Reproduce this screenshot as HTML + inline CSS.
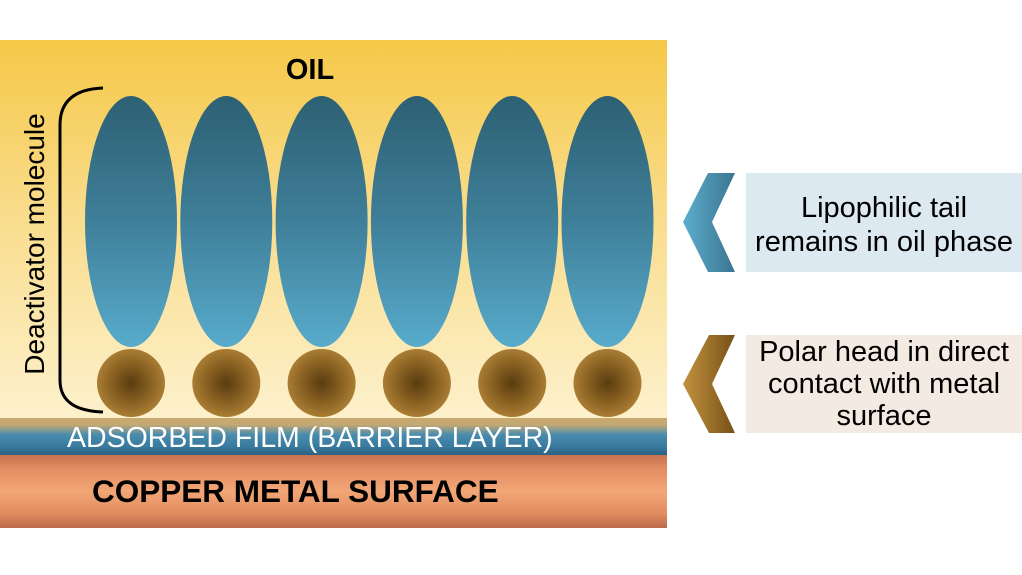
<!DOCTYPE html>
<html>
<head>
<meta charset="utf-8">
<style>
  html,body{margin:0;padding:0;background:#ffffff;}
  svg{display:block;}
  text{font-family:"Liberation Sans", Arial, sans-serif;}
</style>
</head>
<body>
<svg width="1022" height="575" viewBox="0 0 1022 575" xmlns="http://www.w3.org/2000/svg">
  <defs>
    <linearGradient id="oil" x1="0" y1="40" x2="0" y2="418" gradientUnits="userSpaceOnUse">
      <stop offset="0" stop-color="#f5c847"/>
      <stop offset="0.45" stop-color="#f9dc8b"/>
      <stop offset="1" stop-color="#fdf1cc"/>
    </linearGradient>
    <linearGradient id="tail" x1="0" y1="0" x2="0" y2="1">
      <stop offset="0" stop-color="#2d6073"/>
      <stop offset="0.5" stop-color="#3f7f99"/>
      <stop offset="1" stop-color="#58abcc"/>
    </linearGradient>
    <radialGradient id="head" cx="0.5" cy="0.5" r="0.5">
      <stop offset="0" stop-color="#5a3c10"/>
      <stop offset="0.6" stop-color="#8a6222"/>
      <stop offset="1" stop-color="#aa7d34"/>
    </radialGradient>
    <linearGradient id="film" x1="0" y1="418" x2="0" y2="455" gradientUnits="userSpaceOnUse">
      <stop offset="0" stop-color="#c9aa6e"/>
      <stop offset="0.18" stop-color="#c4a872"/>
      <stop offset="0.45" stop-color="#4a8cae"/>
      <stop offset="0.75" stop-color="#3a7c9f"/>
      <stop offset="1" stop-color="#2a6282"/>
    </linearGradient>
    <linearGradient id="copper" x1="0" y1="455" x2="0" y2="528" gradientUnits="userSpaceOnUse">
      <stop offset="0" stop-color="#c47250"/>
      <stop offset="0.2" stop-color="#e48f64"/>
      <stop offset="0.5" stop-color="#f2a676"/>
      <stop offset="0.8" stop-color="#e28c60"/>
      <stop offset="1" stop-color="#b96a4a"/>
    </linearGradient>
    <linearGradient id="chevB" x1="0" y1="0" x2="1" y2="0">
      <stop offset="0" stop-color="#5eaecd"/>
      <stop offset="1" stop-color="#3a7490"/>
    </linearGradient>
    <linearGradient id="chevN" x1="0" y1="0" x2="1" y2="0">
      <stop offset="0" stop-color="#c4923f"/>
      <stop offset="1" stop-color="#765116"/>
    </linearGradient>
  </defs>

  <!-- Oil panel -->
  <rect x="0" y="40" width="667" height="378" fill="url(#oil)"/>
  <!-- Adsorbed film -->
  <rect x="0" y="418" width="667" height="37" fill="url(#film)"/>
  <!-- Copper -->
  <rect x="0" y="455" width="667" height="73" fill="url(#copper)"/>

  <!-- OIL label -->
  <text x="310" y="79" font-size="29" font-weight="bold" text-anchor="middle" fill="#000">OIL</text>

  <!-- Tails -->
  <ellipse cx="131" cy="221.5" rx="46" ry="125.5" fill="url(#tail)"/>
  <ellipse cx="226.3" cy="221.5" rx="46" ry="125.5" fill="url(#tail)"/>
  <ellipse cx="321.6" cy="221.5" rx="46" ry="125.5" fill="url(#tail)"/>
  <ellipse cx="416.9" cy="221.5" rx="46" ry="125.5" fill="url(#tail)"/>
  <ellipse cx="512.2" cy="221.5" rx="46" ry="125.5" fill="url(#tail)"/>
  <ellipse cx="607.5" cy="221.5" rx="46" ry="125.5" fill="url(#tail)"/>

  <!-- Heads -->
  <circle cx="131" cy="383" r="34" fill="url(#head)"/>
  <circle cx="226.3" cy="383" r="34" fill="url(#head)"/>
  <circle cx="321.6" cy="383" r="34" fill="url(#head)"/>
  <circle cx="416.9" cy="383" r="34" fill="url(#head)"/>
  <circle cx="512.2" cy="383" r="34" fill="url(#head)"/>
  <circle cx="607.5" cy="383" r="34" fill="url(#head)"/>

  <!-- Bracket -->
  <path d="M103,88 C76,89 60,100 60,125 L60,380 C60,402 76,411 103,412" fill="none" stroke="#000" stroke-width="3"/>

  <!-- Deactivator molecule -->
  <text transform="translate(44,244) rotate(-90)" font-size="28" text-anchor="middle" fill="#000">Deactivator molecule</text>

  <!-- Film text -->
  <text x="67" y="447" font-size="28.5" fill="#ffffff">ADSORBED FILM (BARRIER LAYER)</text>

  <!-- Copper text -->
  <text x="92" y="502" font-size="31.5" font-weight="bold" fill="#000">COPPER METAL SURFACE</text>

  <!-- Right side: blue chevron + box -->
  <polygon points="708,173 735,173 712,222 735,272 708,272 683,222" fill="url(#chevB)"/>
  <rect x="746" y="173" width="276" height="99" fill="#dde9f0"/>
  <text x="884" y="217" font-size="29" text-anchor="middle" fill="#000">Lipophilic tail</text>
  <text x="884" y="251" font-size="29" text-anchor="middle" fill="#000">remains in oil phase</text>

  <!-- Right side: brown chevron + box -->
  <polygon points="709,335 735,335 712,384 735,433 709,433 683,384" fill="url(#chevN)"/>
  <rect x="746" y="335" width="276" height="98" fill="#f3ebe1"/>
  <text x="884" y="361" font-size="29" text-anchor="middle" fill="#000">Polar head in direct</text>
  <text x="884" y="393" font-size="29" text-anchor="middle" fill="#000">contact with metal</text>
  <text x="884" y="425" font-size="29" text-anchor="middle" fill="#000">surface</text>
</svg>
</body>
</html>
